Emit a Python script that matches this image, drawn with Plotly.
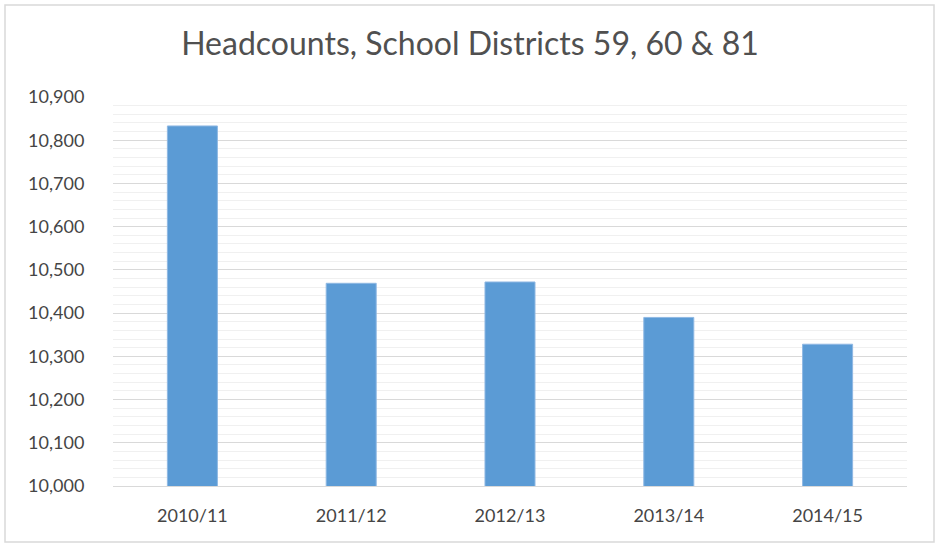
import plotly.graph_objects as go

years = ["2010/11", "2011/12", "2012/13", "2013/14", "2014/15"]
headcounts = [10833, 10469, 10472, 10390, 10328]

W, H = 940, 549
ML, MR, MT, MB = 113, 33, 97, 63

fig = go.Figure()
fig.add_trace(go.Bar(
    x=years, y=headcounts, width=0.315,
    marker=dict(color="#5B9BD5", line=dict(color="#8FB8E3", width=1)),
    hoverinfo="x+y",
))

font_family = "Lato, 'Open Sans', sans-serif"
fig.update_layout(
    width=W, height=H,
    margin=dict(l=ML, r=MR, t=MT, b=MB),
    paper_bgcolor="white", plot_bgcolor="white",
    showlegend=False,
    title=dict(text="Headcounts, School Districts 59, 60 & 81",
               x=0.5, xref="container", xanchor="center",
               y=1 - 44 / H, yanchor="middle",
               font=dict(family=font_family, size=32, color="#505050")),
    font=dict(family=font_family, color="#505050"),
)
fig.update_xaxes(
    showline=True, linecolor="#D9D9D9", linewidth=1,
    ticks="outside", ticklen=13, tickcolor="rgba(0,0,0,0)",
    tickfont=dict(size=18, color="#454545"),
    showgrid=False, fixedrange=True,
)
fig.update_yaxes(
    range=[10000, 10900], dtick=100, tick0=10000,
    tickformat=",d",
    showgrid=True, gridcolor="#D9D9D9", gridwidth=1,
    minor=dict(dtick=20, showgrid=True, gridcolor="#F0F0F0", gridwidth=1),
    ticks="outside", ticklen=24, tickcolor="rgba(0,0,0,0)",
    tickfont=dict(size=18, color="#454545"),
    zeroline=False, showline=False, fixedrange=True,
)

# outer chart border
pw, ph = W - ML - MR, H - MT - MB
def px(x): return (x - ML) / pw
def py(y): return (H - MB - y) / ph
fig.add_shape(type="rect", xref="paper", yref="paper",
              x0=px(5), x1=px(934), y0=py(542), y1=py(5),
              line=dict(color="#D9D9D9", width=1.5), layer="below")

fig.write_html("out.html",
               config={"displayModeBar": False},
               post_script="document.body.style.margin='0px';document.body.style.padding='0px';")
